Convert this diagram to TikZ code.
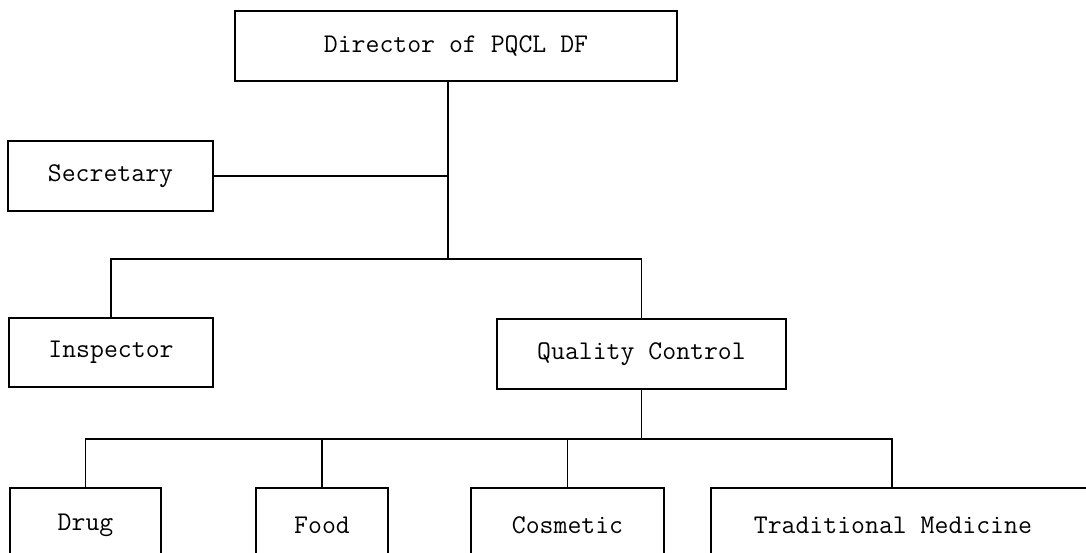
\documentclass[tikz,border=0pt]{standalone}
\begin{document}
\begin{tikzpicture}[x=1pt,y=-1pt,
  box/.style={draw, line width=1.8pt, inner sep=0pt, font=\ttfamily\fontsize{27}{30}\selectfont},
  conn/.style={line width=1.5pt},
  mainconn/.style={line width=2.4pt}]
\useasboundingbox (0,0) rectangle (1086,552);
\clip (0,0) rectangle (1086,552);
% boxes
\node[box, minimum width=442pt, minimum height=70pt] (dir) at (456,46) {Director of PQCL DF};
\node[box, minimum width=205pt, minimum height=70pt] (sec) at (110.5,176) {Secretary};
\node[box, minimum width=204pt, minimum height=69pt] (insp) at (111,352.5) {Inspector};
\node[box, minimum width=289pt, minimum height=70pt] (qc) at (641.5,354) {Quality Control};
\node[box, minimum width=151pt, minimum height=74pt] (drug) at (85.5,525) {Drug};
\node[box, minimum width=132pt, minimum height=74pt] (food) at (322,525) {Food};
\node[box, minimum width=193pt, minimum height=74pt] (cos) at (567.5,525) {Cosmetic};
\node[box, minimum width=400pt, minimum height=74pt, anchor=west] (tm) at (710,525) {\hspace*{-6pt}Traditional Medicine\hspace*{30pt}};
% junctions
\coordinate (hb) at (448,259);
\coordinate (bb) at (644,439);
\coordinate (tmtop) at (892,488);
% connectors
\draw[mainconn] (hb |- dir.south) -- (hb);
\draw[conn] (sec.east) -- (sec.east -| hb);
\draw[conn] (insp.north) |- (hb) -| (qc.north);
\draw[conn] (qc.south) -- (qc.south |- bb);
\draw[conn] (drug.north) |- (bb) -| (tmtop);
\draw[conn] (food.north) -- (food.north |- bb);
\draw[conn] (cos.north) -- (cos.north |- bb);
\end{tikzpicture}
\end{document}
